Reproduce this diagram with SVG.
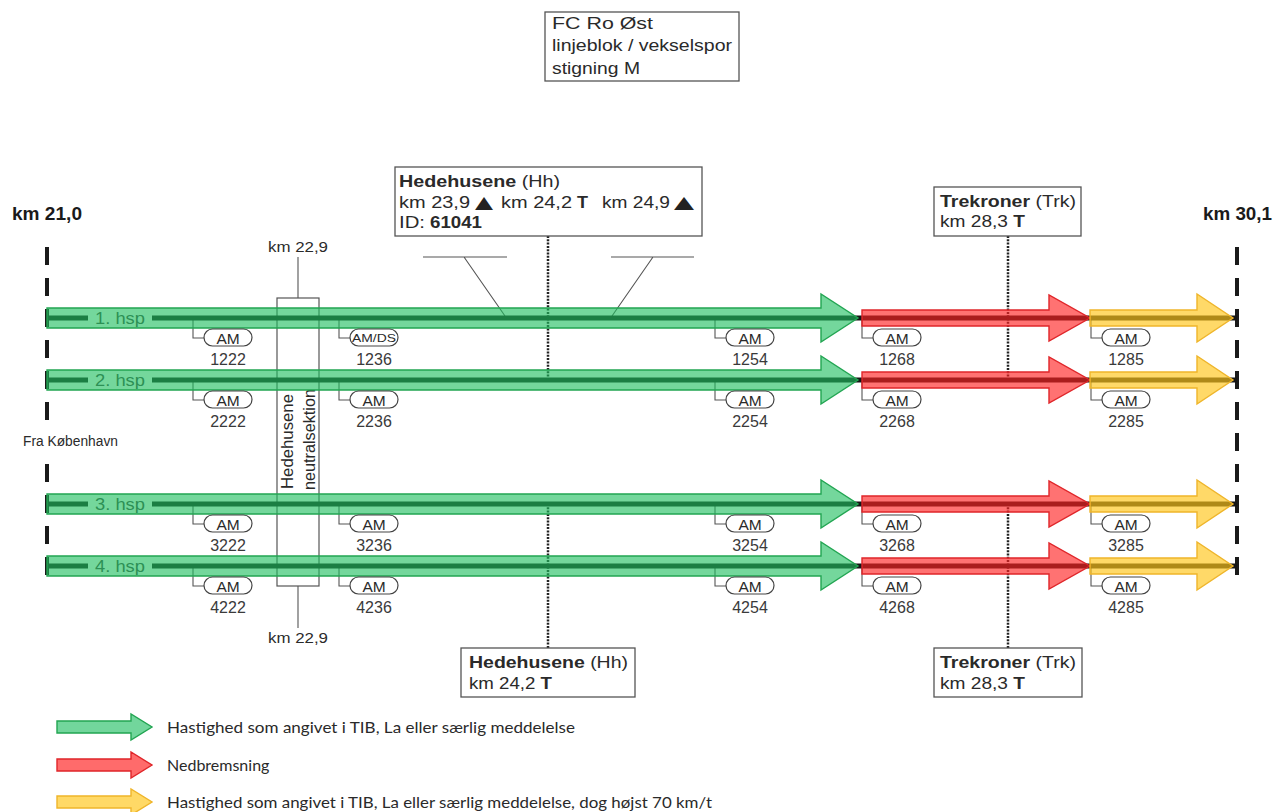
<svg xmlns="http://www.w3.org/2000/svg" width="1277" height="812" viewBox="0 0 1277 812">
<style>
.t{font-family:"Liberation Sans",Arial,sans-serif;fill:#2a2a2a}
.b{font-weight:bold}
.k{font-size:18px;font-weight:bold;fill:#1a1a1a}
.bx{font-size:17px}
.s15{font-size:15.5px}
.num{font-size:16px;text-anchor:middle;fill:#3a3a3a}
.am{font-size:15.5px;text-anchor:middle;fill:#2a2a2a}
.amds{font-size:11.5px;text-anchor:middle;fill:#2a2a2a}
.hsp{font-size:16px;fill:#444}
.box{fill:#fff;stroke:#555;stroke-width:1.3}
.nbox{fill:none;stroke:#555;stroke-width:1.2}
.pill{fill:#fff;stroke:#444;stroke-width:1.2}
.lead{fill:none;stroke:#555;stroke-width:1.1}
.dot{stroke:#222;stroke-width:2.5;stroke-dasharray:2 1.3}
.dash{stroke:#1a1a1a;stroke-width:4;stroke-dasharray:18 13;stroke-dashoffset:18}
.trk{stroke:#151515;stroke-width:5}
.ag{fill:#1fbf5f;fill-opacity:.62;stroke:#22a552;stroke-width:1.4}
.ar{fill:#ff2222;fill-opacity:.64;stroke:#e0262a;stroke-width:1.4}
.ay{fill:#ffc61a;fill-opacity:.66;stroke:#efb52a;stroke-width:1.4}
.lg{font-family:Lato,"Open Sans",sans-serif;font-size:16px;fill:#2a2a2a}
.tri{font-family:"DejaVu Sans",sans-serif;font-size:17px;fill:#222}
</style>
<defs>
<path id="ga" d="M47,-10H821V-24L858,0L821,24V10H47Z"/>
<path id="ra" d="M862,-8H1049V-23L1090,0L1049,23V8H862Z"/>
<path id="ya" d="M1090,-8H1197V-24L1233,0L1197,24V8H1090Z"/>
<path id="lga" d="M57,-6H131V-13L152,0L131,13V6H57Z"/>
</defs>
<rect width="1277" height="812" fill="#fff"/>

<g id="fc-box">
<rect class="box" x="545" y="12" width="194" height="69"/>
<text class="t bx" x="552" y="29" textLength="101" lengthAdjust="spacingAndGlyphs">FC Ro Øst</text>
<text class="t bx" x="552" y="51" textLength="180" lengthAdjust="spacingAndGlyphs">linjeblok / vekselspor</text>
<text class="t bx" x="552" y="74" textLength="88" lengthAdjust="spacingAndGlyphs">stigning M</text>
</g>

<g id="km-21">
<text class="t k" x="12" y="220" textLength="70" lengthAdjust="spacingAndGlyphs">km 21,0</text>
<line class="dash" x1="47" y1="234" x2="47" y2="421"/>
<line class="dash" x1="47" y1="451" x2="47" y2="575"/>
</g>
<g id="km-30">
<text class="t k" x="1203" y="220" textLength="69" lengthAdjust="spacingAndGlyphs">km 30,1</text>
<line class="dash" x1="1237" y1="234" x2="1237" y2="575"/>
</g>

<g id="fra">
<text class="t s15" x="23" y="446" textLength="95" lengthAdjust="spacingAndGlyphs">Fra København</text>
</g>

<g id="connectors">
<line class="lead" x1="298" y1="257" x2="298" y2="298"/>
<line class="lead" x1="298" y1="586" x2="298" y2="628"/>
<path class="lead" d="M423,257H507M464,257L505,316"/>
<path class="lead" d="M611,257H694M653,257L612,316"/>
<line class="dot" x1="548" y1="236" x2="548" y2="380"/>
<line class="dot" x1="548" y1="504" x2="548" y2="648"/>
<line class="dot" x1="1008" y1="236" x2="1008" y2="380"/>
<line class="dot" x1="1008" y1="504" x2="1008" y2="648"/>
<path class="lead" d="M193,320V338H204M339,320V338H350M715,320V338H726M862,320V338H873M1091,320V338H1102"/>
<path class="lead" d="M193,382V400H204M339,382V400H350M715,382V400H726M862,382V400H873M1091,382V400H1102"/>
<path class="lead" d="M193,506V524H204M339,506V524H350M715,506V524H726M862,506V524H873M1091,506V524H1102"/>
<path class="lead" d="M193,568V586H204M339,568V586H350M715,568V586H726M862,568V586H873M1091,568V586H1102"/>
</g>

<g id="neutral">
<rect class="nbox" x="277" y="298" width="42" height="288"/>
<text class="t" font-size="16" transform="translate(293,489) rotate(-90)" textLength="95" lengthAdjust="spacingAndGlyphs">Hedehusene</text>
<text class="t" font-size="16" transform="translate(315,490) rotate(-90)" textLength="101" lengthAdjust="spacingAndGlyphs">neutralsektion</text>
<text class="t s15" x="298" y="252" text-anchor="middle" textLength="60" lengthAdjust="spacingAndGlyphs">km 22,9</text>
<text class="t s15" x="298" y="643" text-anchor="middle" textLength="60" lengthAdjust="spacingAndGlyphs">km 22,9</text>
</g>

<g id="tracks">
<text class="t hsp" x="95" y="324" textLength="50" lengthAdjust="spacingAndGlyphs">1. hsp</text>
<text class="t hsp" x="95" y="386" textLength="50" lengthAdjust="spacingAndGlyphs">2. hsp</text>
<text class="t hsp" x="95" y="510" textLength="50" lengthAdjust="spacingAndGlyphs">3. hsp</text>
<text class="t hsp" x="95" y="572" textLength="50" lengthAdjust="spacingAndGlyphs">4. hsp</text>
<path class="trk" d="M47,318H88M152,318H1237M47,380H88M152,380H1237M47,504H88M152,504H1237M47,566H88M152,566H1237"/>
</g>

<g id="arrows">
<use href="#ga" class="ag" transform="translate(0,318)"/>
<use href="#ra" class="ar" transform="translate(0,318)"/>
<use href="#ya" class="ay" transform="translate(0,318)"/>
<use href="#ga" class="ag" transform="translate(0,380)"/>
<use href="#ra" class="ar" transform="translate(0,380)"/>
<use href="#ya" class="ay" transform="translate(0,380)"/>
<use href="#ga" class="ag" transform="translate(0,504)"/>
<use href="#ra" class="ar" transform="translate(0,504)"/>
<use href="#ya" class="ay" transform="translate(0,504)"/>
<use href="#ga" class="ag" transform="translate(0,566)"/>
<use href="#ra" class="ar" transform="translate(0,566)"/>
<use href="#ya" class="ay" transform="translate(0,566)"/>
</g>

<g id="am-track1">
<rect class="pill" x="204" y="329" width="48" height="17" rx="8.5"/><text class="t am" x="228" y="343.5">AM</text><text class="t num" x="228" y="365">1222</text>
<rect class="pill" x="350" y="329" width="48" height="17" rx="8.5"/><text class="t amds" x="374" y="342" textLength="44" lengthAdjust="spacingAndGlyphs">AM/DS</text><text class="t num" x="374" y="365">1236</text>
<rect class="pill" x="726" y="329" width="48" height="17" rx="8.5"/><text class="t am" x="750" y="343.5">AM</text><text class="t num" x="750" y="365">1254</text>
<rect class="pill" x="873" y="329" width="48" height="17" rx="8.5"/><text class="t am" x="897" y="343.5">AM</text><text class="t num" x="897" y="365">1268</text>
<rect class="pill" x="1102" y="329" width="48" height="17" rx="8.5"/><text class="t am" x="1126" y="343.5">AM</text><text class="t num" x="1126" y="365">1285</text>
</g>
<g id="am-track2">
<rect class="pill" x="204" y="391" width="48" height="17" rx="8.5"/><text class="t am" x="228" y="405.5">AM</text><text class="t num" x="228" y="427">2222</text>
<rect class="pill" x="350" y="391" width="48" height="17" rx="8.5"/><text class="t am" x="374" y="405.5">AM</text><text class="t num" x="374" y="427">2236</text>
<rect class="pill" x="726" y="391" width="48" height="17" rx="8.5"/><text class="t am" x="750" y="405.5">AM</text><text class="t num" x="750" y="427">2254</text>
<rect class="pill" x="873" y="391" width="48" height="17" rx="8.5"/><text class="t am" x="897" y="405.5">AM</text><text class="t num" x="897" y="427">2268</text>
<rect class="pill" x="1102" y="391" width="48" height="17" rx="8.5"/><text class="t am" x="1126" y="405.5">AM</text><text class="t num" x="1126" y="427">2285</text>
</g>
<g id="am-track3">
<rect class="pill" x="204" y="515" width="48" height="17" rx="8.5"/><text class="t am" x="228" y="529.5">AM</text><text class="t num" x="228" y="551">3222</text>
<rect class="pill" x="350" y="515" width="48" height="17" rx="8.5"/><text class="t am" x="374" y="529.5">AM</text><text class="t num" x="374" y="551">3236</text>
<rect class="pill" x="726" y="515" width="48" height="17" rx="8.5"/><text class="t am" x="750" y="529.5">AM</text><text class="t num" x="750" y="551">3254</text>
<rect class="pill" x="873" y="515" width="48" height="17" rx="8.5"/><text class="t am" x="897" y="529.5">AM</text><text class="t num" x="897" y="551">3268</text>
<rect class="pill" x="1102" y="515" width="48" height="17" rx="8.5"/><text class="t am" x="1126" y="529.5">AM</text><text class="t num" x="1126" y="551">3285</text>
</g>
<g id="am-track4">
<rect class="pill" x="204" y="577" width="48" height="17" rx="8.5"/><text class="t am" x="228" y="591.5">AM</text><text class="t num" x="228" y="613">4222</text>
<rect class="pill" x="350" y="577" width="48" height="17" rx="8.5"/><text class="t am" x="374" y="591.5">AM</text><text class="t num" x="374" y="613">4236</text>
<rect class="pill" x="726" y="577" width="48" height="17" rx="8.5"/><text class="t am" x="750" y="591.5">AM</text><text class="t num" x="750" y="613">4254</text>
<rect class="pill" x="873" y="577" width="48" height="17" rx="8.5"/><text class="t am" x="897" y="591.5">AM</text><text class="t num" x="897" y="613">4268</text>
<rect class="pill" x="1102" y="577" width="48" height="17" rx="8.5"/><text class="t am" x="1126" y="591.5">AM</text><text class="t num" x="1126" y="613">4285</text>
</g>

<g id="hh-top">
<rect class="box" x="395" y="167" width="307" height="69"/>
<text class="t bx" x="399" y="187" textLength="161" lengthAdjust="spacingAndGlyphs"><tspan class="b">Hedehusene</tspan> (Hh)</text>
<text class="t bx" x="399" y="208" textLength="71" lengthAdjust="spacingAndGlyphs">km 23,9</text>
<text class="tri" x="475" y="208" textLength="18" lengthAdjust="spacingAndGlyphs">▲</text>
<text class="t bx" x="501" y="208" textLength="71" lengthAdjust="spacingAndGlyphs">km 24,2</text>
<text class="t bx b" x="577" y="208" textLength="11" lengthAdjust="spacingAndGlyphs">T</text>
<text class="t bx" x="602" y="208" textLength="68" lengthAdjust="spacingAndGlyphs">km 24,9</text>
<text class="tri" x="674" y="208" textLength="20" lengthAdjust="spacingAndGlyphs">▲</text>
<text class="t bx" x="399" y="228" textLength="26" lengthAdjust="spacingAndGlyphs">ID:</text>
<text class="t bx b" x="430" y="228" textLength="52" lengthAdjust="spacingAndGlyphs">61041</text>
</g>

<g id="trk-top">
<rect class="box" x="934" y="187" width="147" height="49"/>
<text class="t bx" x="940" y="207" textLength="136" lengthAdjust="spacingAndGlyphs"><tspan class="b">Trekroner</tspan> (Trk)</text>
<text class="t bx" x="940" y="227" textLength="85" lengthAdjust="spacingAndGlyphs">km 28,3 <tspan class="b">T</tspan></text>
</g>

<g id="hh-bottom">
<rect class="box" x="461" y="648" width="174" height="49"/>
<text class="t bx" x="469" y="668" textLength="159" lengthAdjust="spacingAndGlyphs"><tspan class="b">Hedehusene</tspan> (Hh)</text>
<text class="t bx" x="469" y="689" textLength="83" lengthAdjust="spacingAndGlyphs">km 24,2 <tspan class="b">T</tspan></text>
</g>

<g id="trk-bottom">
<rect class="box" x="934" y="648" width="148" height="49"/>
<text class="t bx" x="940" y="668" textLength="136" lengthAdjust="spacingAndGlyphs"><tspan class="b">Trekroner</tspan> (Trk)</text>
<text class="t bx" x="940" y="689" textLength="85" lengthAdjust="spacingAndGlyphs">km 28,3 <tspan class="b">T</tspan></text>
</g>

<g id="legend">
<use href="#lga" class="ag" transform="translate(0,727)" style="fill:#72d69c;fill-opacity:1"/>
<text class="lg" x="167" y="733" textLength="408" lengthAdjust="spacingAndGlyphs">Hastighed som angivet i TIB, La eller særlig meddelelse</text>
<use href="#lga" class="ar" transform="translate(0,765)" style="fill:#ff6b6b;fill-opacity:1"/>
<text class="lg" x="167" y="771">Nedbremsning</text>
<use href="#lga" class="ay" transform="translate(0,802)" style="fill:#ffd966;fill-opacity:1"/>
<text class="lg" x="167" y="808" textLength="545" lengthAdjust="spacingAndGlyphs">Hastighed som angivet i TIB, La eller særlig meddelelse, dog højst 70 km/t</text>
</g>
</svg>
